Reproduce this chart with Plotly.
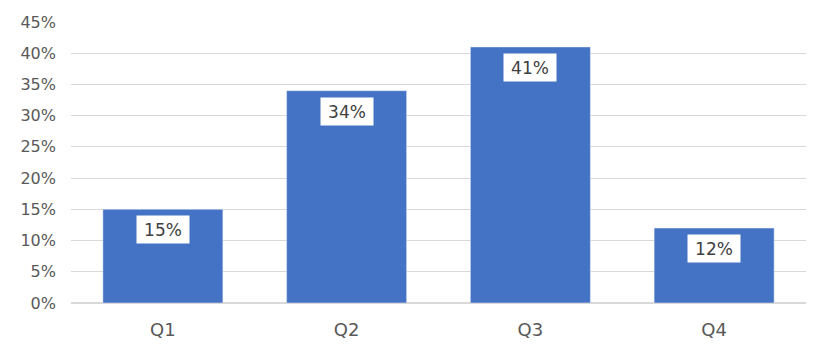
import plotly.graph_objects as go

categories = ["Q1", "Q2", "Q3", "Q4"]
values = [15, 34, 41, 12]
labels = ["15%", "34%", "41%", "12%"]
tick_vals = [0, 5, 10, 15, 20, 25, 30, 35, 40, 45]
tick_text = ["0%", "5%", "10%", "15%", "20%", "25%", "30%", "35%", "40%", "45%"]

FONT = "DejaVu Sans"

fig = go.Figure(go.Bar(x=categories, y=values, marker_color="#4472C4", width=0.653,
                       hoverinfo="skip"))

for c, v, t in zip(categories, values, labels):
    fig.add_annotation(x=c, y=v, text=t, showarrow=False, yanchor="top", yshift=-6,
                       bgcolor="white", borderpad=0, width=52, height=27,
                       font=dict(family=FONT, size=17, color="#404040"))

fig.update_layout(
    width=831, height=354,
    margin=dict(l=71, r=25, t=22, b=51),
    paper_bgcolor="white", plot_bgcolor="white",
    showlegend=False,
    font=dict(family=FONT, size=16, color="#595959"),
)
fig.update_xaxes(showgrid=False, showline=False, ticks="", ticklabelstandoff=14,
                 tickfont=dict(family=FONT, size=18, color="#595959"))
fig.update_yaxes(range=[0, 45], tickvals=tick_vals, ticktext=tick_text,
                 showgrid=True, gridcolor="#d9d9d9", gridwidth=1,
                 zeroline=True, zerolinecolor="#d9d9d9", zerolinewidth=2,
                 showline=False, ticks="", ticklabelstandoff=14,
                 tickfont=dict(family=FONT, size=16, color="#595959"))

fig.write_html("out.html")
